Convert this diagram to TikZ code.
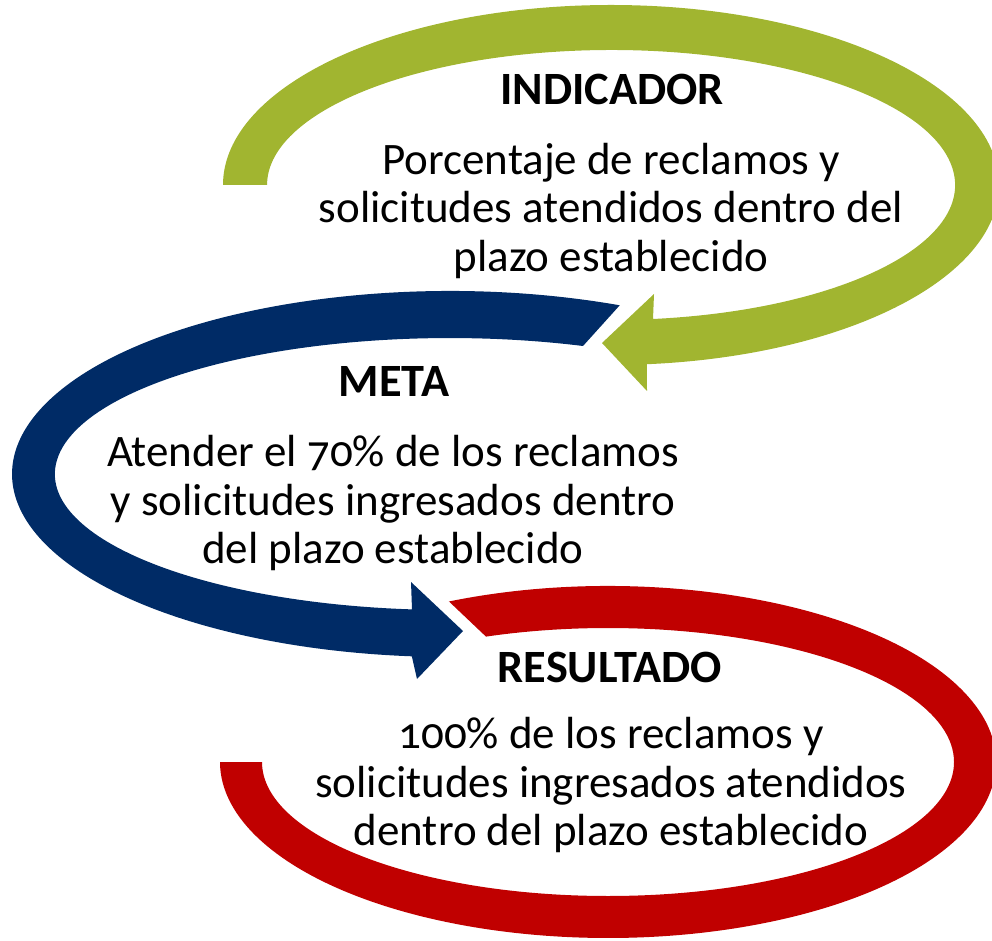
\documentclass[tikz,border=0pt]{standalone}
\usepackage{fontspec}
\setmainfont[Numbers=OldStyle]{Carlito}
\usetikzlibrary{positioning}

\definecolor{verde}{RGB}{161,181,48}
\definecolor{azul}{RGB}{0,43,102}
\definecolor{rojo}{RGB}{192,0,0}

\begin{document}
\begin{tikzpicture}[
            x=1pt, y=1pt,
            % Stile per i titoli
            titulo/.style={font=\fontsize{46.3}{48.5}\selectfont\bfseries, inner sep=0pt},
            % Stile per il testo
            texto/.style={align=center, font=\fontsize{45}{48.5}\selectfont, inner sep=0pt}
        ]
            \useasboundingbox (0,0) rectangle (992,940);

            % --- Freccia verde (indicador) ---
            \begin{scope}[shift={(611,755)}]
                \fill[verde] (180:388 and 180)
                    arc[start angle=180, end angle=-84.7, x radius=388, y radius=180]
                    -- (36,-206) -- (-9,-158) -- (43,-109) -- (42,-134)
                    arc[start angle=-83, end angle=180, x radius=344, y radius=135]
                    -- cycle;
            \end{scope}

            % --- Freccia blu (meta) ---
            \begin{scope}[shift={(450,466)}]
                \fill[azul] (67.2:438 and 183)
                    arc[start angle=67.2, end angle=265, x radius=438, y radius=183]
                    -- (-33,-205) -- (13,-157) -- (-39,-108) -- (-38,-135.4)
                    arc[start angle=264.5, end angle=70.3, x radius=395, y radius=136]
                    -- cycle;
            \end{scope}

            % --- Freccia rossa (resultado) ---
            \begin{scope}[shift={(608,178)}]
                \fill[rojo] (114.2:388 and 176)
                    arc[start angle=114.2, end angle=-180, x radius=388, y radius=176]
                    -- (-346,0)
                    arc[start angle=180, end angle=470.65, x radius=346, y radius=134]
                    -- cycle;
            \end{scope}

            % --- Testi ---
            \node[titulo] (indicador) at (612,851) {INDICADOR};
            \node[texto] (txtindicador) at (611,729) {Porcentaje de reclamos y\\
                solicitudes atendidos dentro del\\ plazo establecido};

            \node[titulo] (meta) at (394,558.5) {META};
            \node[texto] (txtmeta) at (393,436.5) {Atender el 70\% de los reclamos\\
                y solicitudes ingresados dentro\\ del plazo establecido};

            \node[titulo] (resultado) at (610,273) {RESULTADO};
            \node[texto] (txtresultado) at (611,155) {100\% de los reclamos y\\
                solicitudes ingresados atendidos\\ dentro del plazo establecido};

        \end{tikzpicture}
\end{document}
